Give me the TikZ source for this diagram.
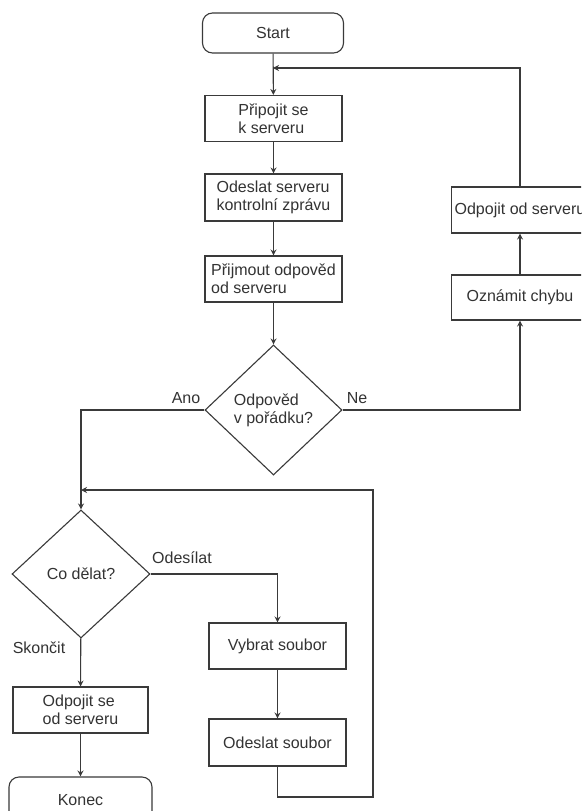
\documentclass[tikz,border=0pt]{standalone}
\usepackage{fontspec}
\setmainfont{Liberation Sans}
\usetikzlibrary{shapes.geometric,arrows.meta}
\definecolor{ln}{HTML}{3A3A3A}
\definecolor{tx}{HTML}{333333}
\begin{document}
\begin{tikzpicture}[x=1pt,y=-1pt,
  every node/.style={font=\fontsize{16}{18}\selectfont, text=tx},
  box/.style={draw=ln, line width=1.1pt, fill=white, rectangle, minimum width=137pt, minimum height=46pt, inner sep=2pt, align=left},
  term/.style={box, rounded corners=10pt},
  dec/.style={draw=ln, line width=1.1pt, fill=white, diamond, inner sep=0pt, align=left},
  conn/.style={draw=ln, line width=1.1pt},
  arr/.style={conn, -{Stealth[length=6pt,width=6pt,inset=2pt]}},
  lbl/.style={anchor=base, inner sep=0pt}
]
\useasboundingbox (0,0) rectangle (581,811);
\clip (0,0) rectangle (581,811);
\fill[white] (0,0) rectangle (581,811);

% nodes
\node[term, minimum width=141pt, minimum height=40pt] (start) at (273,33) {Start};
\node[box] (b1) at (273.5,118.5) {Připojit se\\k serveru};
\node[box, minimum height=47pt] (b2) at (273.5,197.5) {Odeslat serveru\\kontrolní zprávu};
\node[box] (b3) at (273.5,279) {Přijmout odpověd\\od serveru};
\node[dec, minimum width=137pt, minimum height=130pt] (d1) at (273.5,410) {Odpověd\\v pořádku?};
\node[box, minimum height=45pt] (b7) at (520,297.5) {Oznámit chybu};
\node[box] (b8) at (520,210) {Odpojit od serveru};
\node[dec, minimum width=138pt, minimum height=128pt] (d2) at (81,574) {Co dělat?};
\node[box, minimum width=135pt] (b4) at (80.5,710) {Odpojit se\\od serveru};
\node[term, minimum width=143pt, minimum height=46pt] (konec) at (80.5,800) {Konec};
\node[box] (b5) at (277.5,646) {Vybrat soubor};
\node[box, minimum height=47pt] (b6) at (277.5,742.5) {Odeslat soubor};

% junction coordinates
\coordinate (j1) at (273,68);
\coordinate (j2) at (81,490);
\coordinate (j3) at (277.5,797);
\coordinate (j4) at (373,797);
\coordinate (j5) at (373,490);

% connectors
\draw[arr] (start) -- (b1);
\draw[arr] (b1) -- (b2);
\draw[arr] (b2) -- (b3);
\draw[arr] (b3) -- (d1);
\draw[arr] (d1.west) -| (d2.north);
\draw[arr] (d1.east) -| (b7.south);
\draw[arr] (b7) -- (b8);
\draw[arr] (b8.north) |- (j1);
\draw[arr] (d2.east) -| (b5.north);
\draw[arr] (b5) -- (b6);
\draw[arr] (b6.south) -- (j3) -- (j4) -- (j5) -- (j2);
\draw[arr] (d2) -- (b4);
\draw[arr] (b4) -- (konec);

% labels
\node[lbl] (lano) at (186,403) {Ano};
\node[lbl] (lne) at (357,403) {Ne};
\node[lbl] (lodes) at (182,563) {Odesílat};
\node[lbl] (lskon) at (39,653) {Skončit};
\end{tikzpicture}
\end{document}
